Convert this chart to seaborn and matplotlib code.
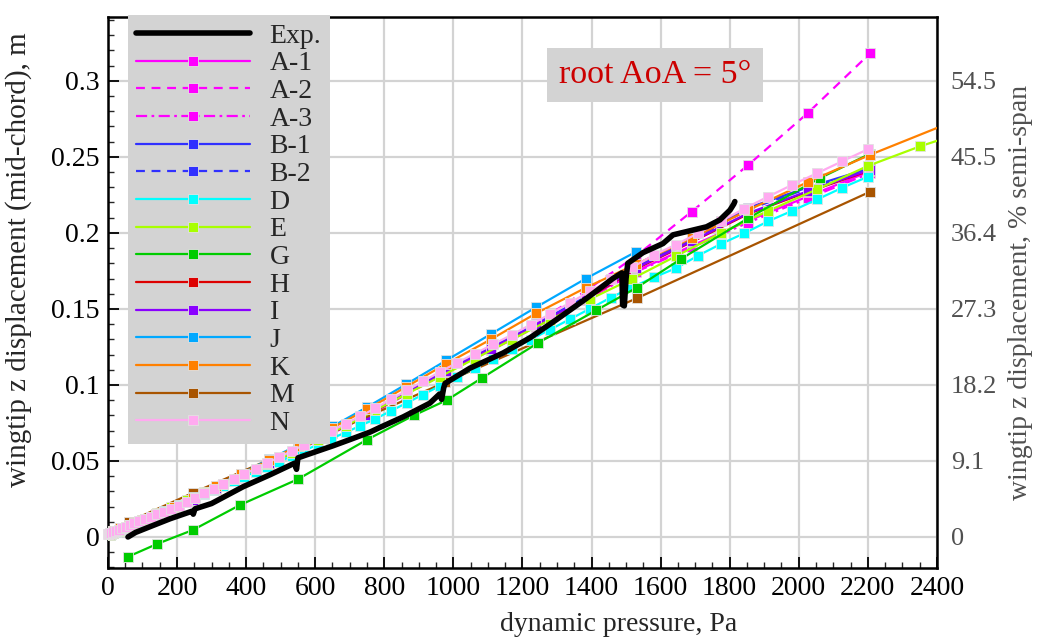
import matplotlib
matplotlib.use("Agg")
import matplotlib.pyplot as plt
import seaborn as sns
from matplotlib.ticker import MultipleLocator

sns.set_theme(style="white")
plt.rcParams['font.family'] = ['Liberation Serif', 'DejaVu Serif']
plt.rcParams['mathtext.fontset'] = 'stix'

# ---------------- data ----------------
exp_q = [58, 80, 122, 180, 244, 247, 252, 300, 391, 470, 540, 546, 550, 575, 652, 700, 759, 787,
         855, 932, 960, 966, 972, 976, 1048, 1144, 1222, 1299, 1386, 1462, 1488, 1490, 1495, 1500,
         1505, 1549, 1607, 1636, 1733, 1772, 1801, 1812, 1815]
exp_y = [0.000, 0.003, 0.0068, 0.012, 0.0170, 0.0150, 0.0185, 0.022, 0.033, 0.041, 0.0485, 0.0445,
         0.052, 0.054, 0.060, 0.064, 0.069, 0.072, 0.079, 0.088, 0.094, 0.0905, 0.098, 0.101, 0.111,
         0.121, 0.131, 0.143, 0.157, 0.170, 0.1737, 0.1526, 0.152, 0.170, 0.180, 0.187, 0.193, 0.1987,
         0.204, 0.2086, 0.215, 0.219, 0.2206]

# fine dynamic-pressure grid (N, D)
q_fine = [0.6, 2.5, 5.7, 10.1, 15.8, 22.8, 31.0, 40.4, 51.2, 63.2, 76.5, 91.0, 106.8, 123.9, 142.2,
          161.8, 182.7, 204.8, 228.2, 252.8, 278.7, 305.9, 334.4, 364.0, 395.0, 427.2, 460.7, 495.5,
          531.5, 568.8, 607.4, 647.2, 688.3, 730.6, 774.2, 819.1, 865.3, 912.6, 961.3, 1011.2, 1062.4,
          1114.8, 1168.6, 1223.6, 1279.8, 1337.3, 1396.1, 1456.1, 1517.4, 1580.0, 1643.8, 1709.0,
          1775.3, 1842.9, 1911.8, 1981.9, 2053.3, 2126.0, 2199.9]
n_y = [0.0021, 0.0022, 0.0025, 0.0029, 0.0034, 0.0041, 0.0048, 0.0057, 0.0066, 0.0077, 0.0089, 0.0102,
       0.0117, 0.0132, 0.0149, 0.0166, 0.0185, 0.0206, 0.0232, 0.0259, 0.0287, 0.0317, 0.0348, 0.0380,
       0.0414, 0.0450, 0.0487, 0.0525, 0.0565, 0.0607, 0.0652, 0.0698, 0.0745, 0.0794, 0.0847, 0.0905,
       0.0964, 0.1024, 0.1086, 0.1146, 0.1206, 0.1266, 0.1329, 0.1396, 0.1466, 0.1540, 0.1616, 0.1694,
       0.1773, 0.1854, 0.1922, 0.1998, 0.2078, 0.2160, 0.2239, 0.2317, 0.2393, 0.2471, 0.2550]
d_y = [0.0011, 0.0012, 0.0016, 0.0020, 0.0025, 0.0032, 0.0040, 0.0050, 0.0060, 0.0072, 0.0085, 0.0099,
       0.0115, 0.0131, 0.0149, 0.0169, 0.0189, 0.0211, 0.0234, 0.0258, 0.0283, 0.0310, 0.0338, 0.0367,
       0.0397, 0.0429, 0.0461, 0.0496, 0.0531, 0.0569, 0.0607, 0.0647, 0.0688, 0.0731, 0.0777, 0.0829,
       0.0882, 0.0937, 0.0994, 0.1052, 0.1111, 0.1172, 0.1234, 0.1298, 0.1364, 0.1432, 0.1502, 0.1575,
       0.1642, 0.1707, 0.1767, 0.1851, 0.1928, 0.1998, 0.2077, 0.2146, 0.2220, 0.2297, 0.2369]

# E
e_q = [0.6, 5.7, 15.8, 31.0, 51.2, 76.5, 106.8, 142.2, 182.7, 228.2, 278.7, 334.4, 395.0, 460.7,
       531.5, 607.4, 688.3, 774.2, 865.3, 961.3, 1062.4, 1168.6, 1279.8, 1396.1, 1517.4, 1643.8,
       1775.3, 1911.8, 2053.3, 2199.9, 2352.0, 2508.0]
e_y = [0.0011, 0.0016, 0.0026, 0.0042, 0.0062, 0.0088, 0.0119, 0.0155, 0.0196, 0.0242, 0.0294,
       0.0350, 0.0412, 0.0479, 0.0551, 0.0638, 0.0733, 0.0834, 0.0941, 0.1054, 0.1173, 0.1298,
       0.1428, 0.1565, 0.1698, 0.1846, 0.2000, 0.2145, 0.2287, 0.2440, 0.2570, 0.2685]

# G
g_q = [58, 142, 246, 382, 550, 750, 886, 981, 1083, 1245, 1413, 1531, 1658, 1854, 2061, 2206]
g_y = [-0.0130, -0.0046, 0.0046, 0.0210, 0.0380, 0.0640, 0.0800, 0.0900, 0.1046, 0.1276, 0.1490,
       0.1640, 0.1827, 0.2097, 0.2360, 0.2520]

# coarse dynamic-pressure grid
q_coarse = [4, 16, 36, 62, 98, 139, 190, 246, 313, 384, 467, 552, 650, 751, 864, 980, 1109, 1239,
            1384, 1530, 1690, 1854, 2027, 2206]
a1_y = [0.0022, 0.0033, 0.0052, 0.0075, 0.0107, 0.0143, 0.0189, 0.0246, 0.0318, 0.0394, 0.0484,
        0.0575, 0.0687, 0.0802, 0.0943, 0.1088, 0.1235, 0.1387, 0.1565, 0.1750, 0.1915, 0.2080,
        0.2240, 0.2405]
a2_y = [0.0023, 0.0034, 0.0053, 0.0076, 0.0108, 0.0145, 0.0191, 0.0249, 0.0322, 0.0399, 0.0490,
        0.0582, 0.0695, 0.0812, 0.0955, 0.1100, 0.1250, 0.1405, 0.1620, 0.1850, 0.2140, 0.2447,
        0.2790, 0.3180]
a3_y = [0.0021, 0.0032, 0.0051, 0.0074, 0.0106, 0.0142, 0.0187, 0.0244, 0.0316, 0.0391, 0.0480,
        0.0571, 0.0682, 0.0797, 0.0937, 0.1081, 0.1228, 0.1380, 0.1558, 0.1745, 0.1905, 0.2068,
        0.2228, 0.2392]
b1_y = [0.0023, 0.0034, 0.0053, 0.0076, 0.0108, 0.0145, 0.0190, 0.0248, 0.0321, 0.0397, 0.0488,
        0.0580, 0.0693, 0.0810, 0.0952, 0.1098, 0.1247, 0.1400, 0.1580, 0.1775, 0.1960, 0.2165,
        0.2300, 0.2425]
b2_y = [0.0022, 0.0033, 0.0052, 0.0075, 0.0107, 0.0144, 0.0189, 0.0247, 0.0319, 0.0395, 0.0486,
        0.0577, 0.0690, 0.0806, 0.0948, 0.1093, 0.1242, 0.1395, 0.1574, 0.1768, 0.1952, 0.2155,
        0.2292, 0.2418]
h_y = [0.0022, 0.0033, 0.0052, 0.0075, 0.0107, 0.0143, 0.0188, 0.0246, 0.0318, 0.0393, 0.0483,
       0.0574, 0.0686, 0.0801, 0.0942, 0.1087, 0.1234, 0.1386, 0.1563, 0.1765, 0.1940, 0.2125,
       0.2270, 0.2410]
i_y = [0.0022, 0.0033, 0.0052, 0.0075, 0.0107, 0.0143, 0.0189, 0.0246, 0.0319, 0.0395, 0.0485,
       0.0576, 0.0689, 0.0804, 0.0946, 0.1091, 0.1239, 0.1392, 0.1570, 0.1770, 0.1945, 0.2130,
       0.2275, 0.2415]
j_q = [4, 16, 36, 62, 98, 139, 190, 246, 313, 384, 467, 552, 650, 751, 864, 980, 1109, 1239, 1384, 1530]
j_y = [0.0026, 0.0037, 0.0056, 0.0080, 0.0114, 0.0152, 0.0200, 0.0260, 0.0336, 0.0415, 0.0510,
       0.0607, 0.0727, 0.0855, 0.1005, 0.1162, 0.1335, 0.1510, 0.1700, 0.1877]
k_q = [4, 16, 36, 62, 98, 139, 190, 246, 313, 384, 467, 552, 650, 751, 864, 980, 1109, 1239,
       1384, 1530, 1690, 1854, 2027, 2206, 2560]
k_y = [0.0026, 0.0037, 0.0056, 0.0080, 0.0113, 0.0151, 0.0198, 0.0258, 0.0333, 0.0412, 0.0505,
       0.0601, 0.0718, 0.0840, 0.0988, 0.1140, 0.1300, 0.1470, 0.1640, 0.1795, 0.1965, 0.2150,
       0.2335, 0.2513, 0.2836]
m_q = [60, 246, 550, 975, 1531, 2206]
m_y = [0.0100, 0.0290, 0.0590, 0.1016, 0.1570, 0.2270]

right_tick_labels = ["0", "9.1", "18.2", "27.3", "36.4", "45.5", "54.5"]

# ---------------- styles ----------------
dash = (0, (4, 3))
dashdot = (0, (5, 2, 1.2, 2))
series = [
    ("A-1", q_coarse, a1_y, "#FF00FF", "-"),
    ("A-2", q_coarse, a2_y, "#FF00FF", dash),
    ("A-3", q_coarse, a3_y, "#FF00FF", dashdot),
    ("B-1", q_coarse, b1_y, "#3030FF", "-"),
    ("B-2", q_coarse, b2_y, "#3030FF", dash),
    ("H", q_coarse, h_y, "#DD0000", "-"),
    ("I", q_coarse, i_y, "#8A00FF", "-"),
    ("M", m_q, m_y, "#A85400", "-"),
    ("J", j_q, j_y, "#00A8FF", "-"),
    ("D", q_fine, d_y, "#00FFFF", "-"),
    ("E", e_q, e_y, "#A8FF00", "-"),
    ("G", g_q, g_y, "#00CC00", "-"),
    ("K", k_q, k_y, "#FF8000", "-"),
    ("N", q_fine, n_y, "#FFAAF0", "-"),
]
legend_order = ["Exp.", "A-1", "A-2", "A-3", "B-1", "B-2", "D", "E", "G", "H", "I", "J", "K", "M", "N"]

fig = plt.figure(figsize=(10.41, 6.41), dpi=100)
ax = fig.add_axes([0.1037, 0.1139, 0.7963, 0.8596])
ax.set_facecolor("white")

for lab, q, y, col, ls in series:
    sns.lineplot(x=q, y=y, ax=ax, color=col, linestyle=ls, linewidth=1.6, marker="s",
                 markersize=7.2, markeredgecolor="#E2E2E2", markeredgewidth=0.6,
                 sort=False, estimator=None, label=lab, zorder=3,
                 clip_on=(lab != "N"))

sns.lineplot(x=exp_q, y=exp_y, ax=ax, color="black", linewidth=4.0, sort=False,
             estimator=None, label="Exp.", zorder=4)

ax.set_xlim(0, 2400)
ax.set_ylim(-0.0204, 0.342)
ax.xaxis.set_major_locator(MultipleLocator(200))
ax.xaxis.set_minor_locator(MultipleLocator(50))
ax.yaxis.set_major_locator(MultipleLocator(0.05))
ax.yaxis.set_minor_locator(MultipleLocator(0.01))
ax.set_yticks([0, 0.05, 0.1, 0.15, 0.2, 0.25, 0.3])
ax.set_yticklabels(["0", "0.05", "0.1", "0.15", "0.2", "0.25", "0.3"])
ax.grid(True, which="major", color="#D3D3D3", linewidth=1.6, zorder=0)
ax.set_axisbelow(True)
ax.tick_params(which="major", direction="in", length=8, width=1.3, labelsize=20,
               colors="black", bottom=True, left=True, top=False, right=False, pad=6)
ax.tick_params(which="minor", direction="in", length=4.5, width=1.0,
               bottom=True, left=True, top=False, right=False)
for s in ax.spines.values():
    s.set_linewidth(1.8)
    s.set_color("black")

ax.set_xlabel("dynamic pressure, Pa", fontsize=20)
ax.xaxis.set_label_coords(0.616, -0.080)
ax.set_ylabel("wingtip z displacement (mid-chord), m", fontsize=21)
ax.yaxis.set_label_coords(-0.092, 0.559)

ax2 = ax.twinx()
ax2.set_ylim(ax.get_ylim())
ax2.set_yticks([0, 0.05, 0.1, 0.15, 0.2, 0.25, 0.3])
ax2.set_yticklabels(right_tick_labels)
ax2.tick_params(axis="y", length=0, labelsize=19, labelcolor="#505050", pad=10)
ax2.set_ylabel("wingtip z displacement, % semi-span", fontsize=20, color="#505050", labelpad=8)
ax2.grid(False)
for s in ax2.spines.values():
    s.set_visible(False)

ax.text(1584, 0.304, "root AoA = 5°", color="#CC0000", fontsize=24.5, ha="center", va="center",
        bbox=dict(boxstyle="square,pad=0.35", fc="#D3D3D3", ec="none"), zorder=6)

handles, labels = ax.get_legend_handles_labels()
hmap = dict(zip(labels, handles))
leg = ax.legend([hmap[l] for l in legend_order], legend_order, loc="upper left",
                bbox_to_anchor=(0.024, 1.004), borderaxespad=0, frameon=True, fancybox=False,
                facecolor="#D3D3D3", edgecolor="none", framealpha=1, fontsize=20,
                handlelength=4.1, handletextpad=0.7, labelspacing=0.08, borderpad=0.3)
leg.set_zorder(7)

fig.savefig("out.png", dpi=100)
